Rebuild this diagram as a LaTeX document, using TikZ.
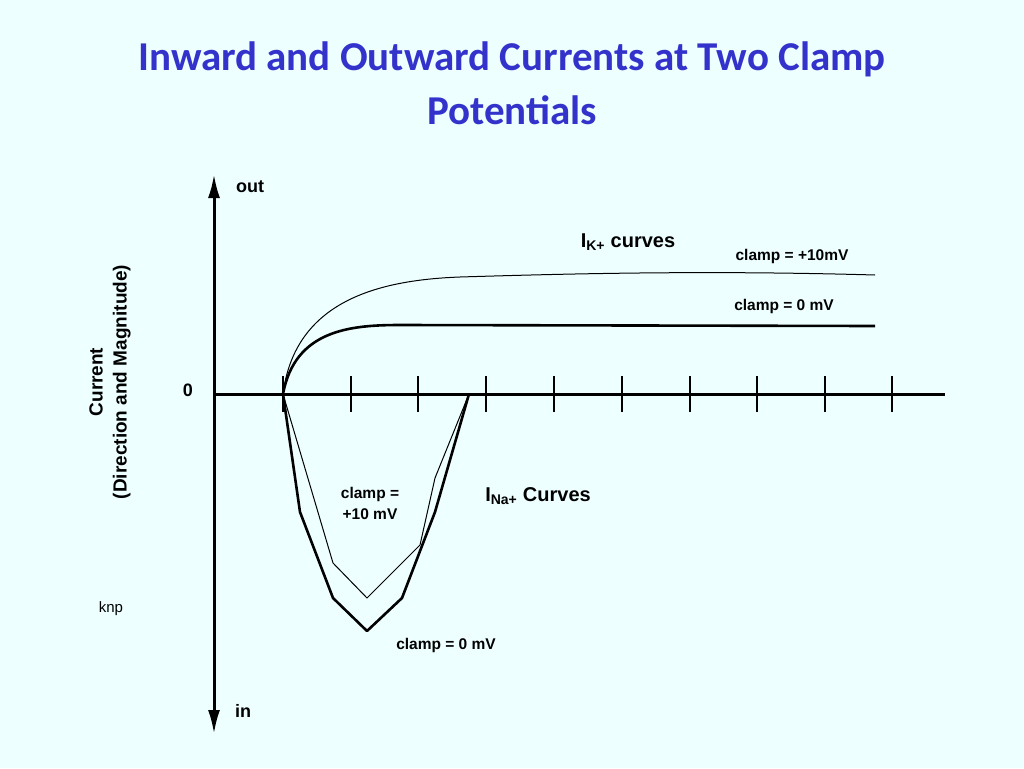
\documentclass[tikz,border=0pt]{standalone}
\usepackage{fontspec}
\setmainfont{Liberation Sans}
\newfontfamily\titlefont{Carlito}
\usetikzlibrary{arrows.meta}
\definecolor{bgcyan}{HTML}{EEFFFF}
\definecolor{titleblue}{HTML}{3333CC}
\begin{document}
\begin{tikzpicture}[x=1pt, y=-1pt,
    lbl/.style={font=\bfseries\fontsize{18}{21}\selectfont, align=center},
    small/.style={font=\bfseries\fontsize{15.5}{21}\selectfont, align=center},
    axis/.style={line width=3pt},
    tick/.style={line width=2.6pt}]
    \fill[bgcyan] (0,0) rectangle (1024,768);
    \node[text=titleblue, font=\titlefont\bfseries\fontsize{41}{54}\selectfont, align=center]
        (title) at (512,83) {Inward and Outward Currents at Two Clamp\\Potentials};
    % axes
    \coordinate (top) at (214,174);
    \coordinate (bot) at (214,734);
    \coordinate (origin) at (214,394);
    \coordinate (right) at (945,394);
    \draw[axis, -{Latex[length=24pt,width=12pt]}] (origin) -- (top);
    \draw[axis, -{Latex[length=24pt,width=12pt]}] (origin) -- (bot);
    \draw[axis] (origin) -- (right);
    \foreach \x in {283,351,418,486,554,622,690,757,825,892}
        \draw[tick] (\x,376) -- (\x,412);
    % K+ curves
    \draw[line width=1pt] (283,394) .. controls (295,300) and (380,280) .. (460,277)
        .. controls (560,274) and (700,270) .. (875,275);
    \draw[line width=2.6pt] (283,394) .. controls (295,330) and (350,325) .. (400,325) -- (875,326);
    % Na+ curves
    \draw[line width=2.6pt, line join=round] (283,394) -- (300,512) -- (333,598) -- (367,631)
        -- (402,598) -- (435,512) -- (469,394);
    \draw[line width=1pt, line join=round] (283,394) -- (333,563) -- (367,598) -- (420,545)
        -- (435,478) -- (469,394);
    % labels
    \node[lbl] (out) at (250,187) {out};
    \node[lbl] (in) at (243,711) {in};
    \node[lbl] (zero) at (188,390) {0};
    \node[font=\fontsize{15}{18}\selectfont] (knp) at (111,609) {knp};
    \node[lbl, font=\bfseries\fontsize{19}{24}\selectfont, rotate=90] (ylabel) at (110,382) {Current\\(Direction and Magnitude)};
    \node[lbl, font=\bfseries\fontsize{20}{24}\selectfont] (ik) at (628,242) {I\textsubscript{K+} curves};
    \node[small] (kten) at (792,256) {clamp = +10mV};
    \node[small] (kzero) at (784,306) {clamp = 0 mV};
    \node[small] (naten) at (370,503) {clamp =\\+10 mV};
    \node[lbl, font=\bfseries\fontsize{20}{24}\selectfont] (ina) at (538,496) {I\textsubscript{Na+} Curves};
    \node[small] (nazero) at (446,645) {clamp = 0 mV};
\end{tikzpicture}
\end{document}
